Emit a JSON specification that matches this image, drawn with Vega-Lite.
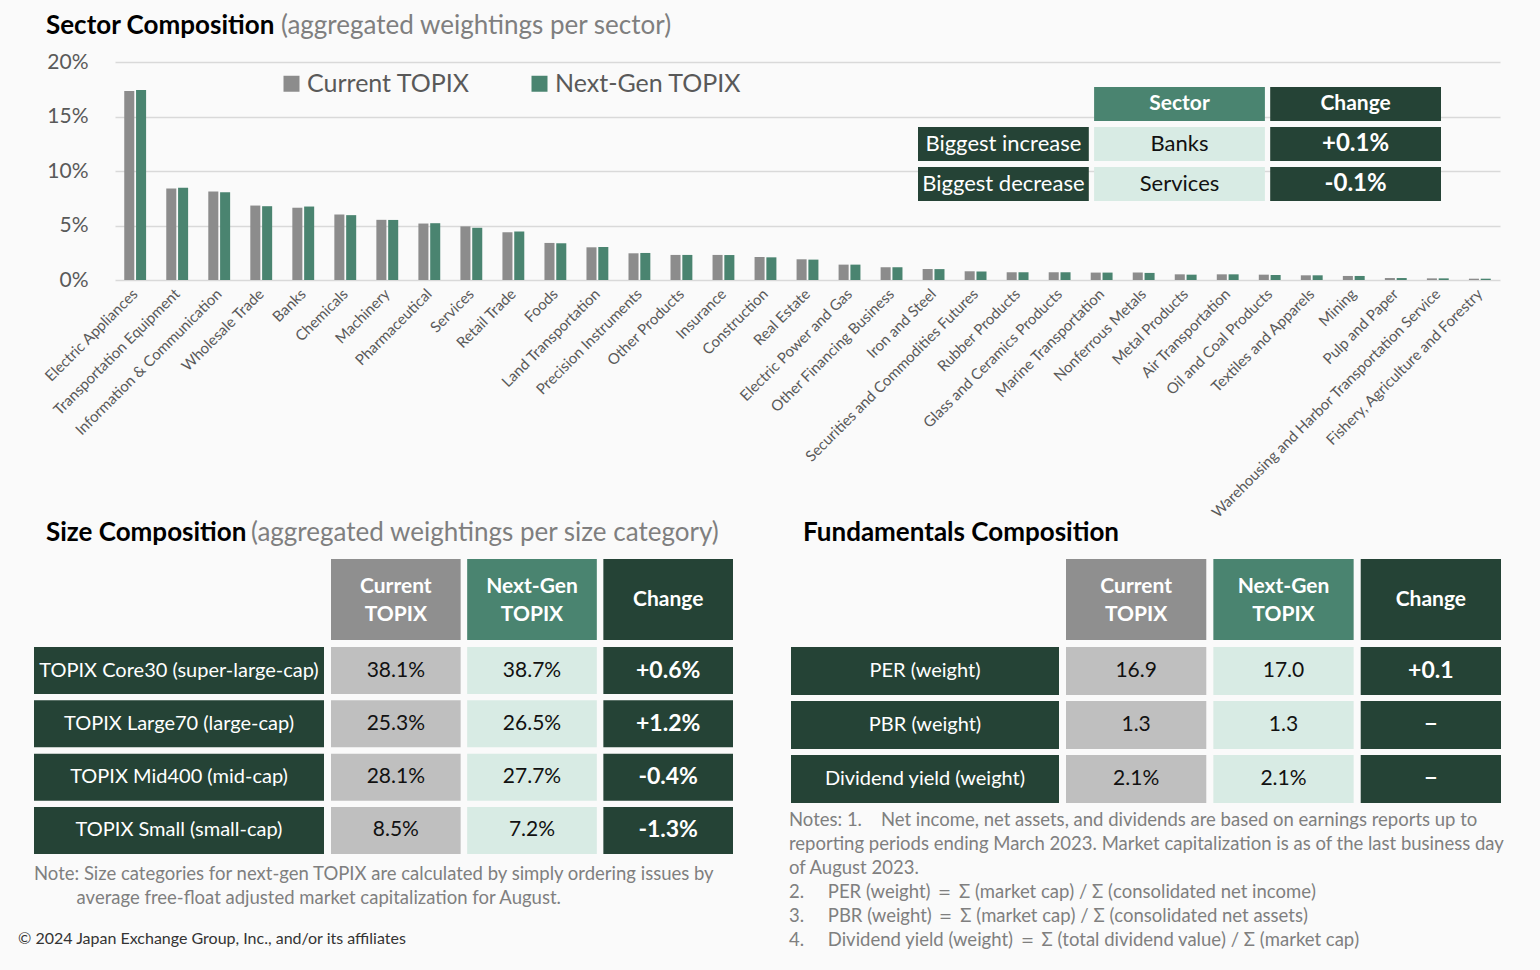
{
  "$schema": "https://vega.github.io/schema/vega-lite/v6.json",
  "background": "#fafafa",
  "padding": {"left": 18, "top": 13, "right": 40, "bottom": 30},
  "config": {"view": {"stroke": null}, "font": "Lato", "title": {"font": "Lato", "subtitleFont": "Lato"}},
  "datasets": {
    "sectors": [
      {"sector": "Electric Appliances", "series": "Current TOPIX", "weight": 0.1734},
      {"sector": "Electric Appliances", "series": "Next-Gen TOPIX", "weight": 0.1743},
      {"sector": "Transportation Equipment", "series": "Current TOPIX", "weight": 0.0840},
      {"sector": "Transportation Equipment", "series": "Next-Gen TOPIX", "weight": 0.0846},
      {"sector": "Information & Communication", "series": "Current TOPIX", "weight": 0.0812},
      {"sector": "Information & Communication", "series": "Next-Gen TOPIX", "weight": 0.0806},
      {"sector": "Wholesale Trade", "series": "Current TOPIX", "weight": 0.0683},
      {"sector": "Wholesale Trade", "series": "Next-Gen TOPIX", "weight": 0.0677},
      {"sector": "Banks", "series": "Current TOPIX", "weight": 0.0663},
      {"sector": "Banks", "series": "Next-Gen TOPIX", "weight": 0.0674},
      {"sector": "Chemicals", "series": "Current TOPIX", "weight": 0.0601},
      {"sector": "Chemicals", "series": "Next-Gen TOPIX", "weight": 0.0595},
      {"sector": "Machinery", "series": "Current TOPIX", "weight": 0.0552},
      {"sector": "Machinery", "series": "Next-Gen TOPIX", "weight": 0.0551},
      {"sector": "Pharmaceutical", "series": "Current TOPIX", "weight": 0.0518},
      {"sector": "Pharmaceutical", "series": "Next-Gen TOPIX", "weight": 0.0521},
      {"sector": "Services", "series": "Current TOPIX", "weight": 0.0492},
      {"sector": "Services", "series": "Next-Gen TOPIX", "weight": 0.0479},
      {"sector": "Retail Trade", "series": "Current TOPIX", "weight": 0.0438},
      {"sector": "Retail Trade", "series": "Next-Gen TOPIX", "weight": 0.0445},
      {"sector": "Foods", "series": "Current TOPIX", "weight": 0.0340},
      {"sector": "Foods", "series": "Next-Gen TOPIX", "weight": 0.0337},
      {"sector": "Land Transportation", "series": "Current TOPIX", "weight": 0.0300},
      {"sector": "Land Transportation", "series": "Next-Gen TOPIX", "weight": 0.0303},
      {"sector": "Precision Instruments", "series": "Current TOPIX", "weight": 0.0245},
      {"sector": "Precision Instruments", "series": "Next-Gen TOPIX", "weight": 0.0248},
      {"sector": "Other Products", "series": "Current TOPIX", "weight": 0.0230},
      {"sector": "Other Products", "series": "Next-Gen TOPIX", "weight": 0.0230},
      {"sector": "Insurance", "series": "Current TOPIX", "weight": 0.0230},
      {"sector": "Insurance", "series": "Next-Gen TOPIX", "weight": 0.0229},
      {"sector": "Construction", "series": "Current TOPIX", "weight": 0.0211},
      {"sector": "Construction", "series": "Next-Gen TOPIX", "weight": 0.0208},
      {"sector": "Real Estate", "series": "Current TOPIX", "weight": 0.0190},
      {"sector": "Real Estate", "series": "Next-Gen TOPIX", "weight": 0.0187},
      {"sector": "Electric Power and Gas", "series": "Current TOPIX", "weight": 0.0141},
      {"sector": "Electric Power and Gas", "series": "Next-Gen TOPIX", "weight": 0.0141},
      {"sector": "Other Financing Business", "series": "Current TOPIX", "weight": 0.0117},
      {"sector": "Other Financing Business", "series": "Next-Gen TOPIX", "weight": 0.0117},
      {"sector": "Iron and Steel", "series": "Current TOPIX", "weight": 0.0101},
      {"sector": "Iron and Steel", "series": "Next-Gen TOPIX", "weight": 0.0100},
      {"sector": "Securities and Commodities Futures", "series": "Current TOPIX", "weight": 0.0080},
      {"sector": "Securities and Commodities Futures", "series": "Next-Gen TOPIX", "weight": 0.0078},
      {"sector": "Rubber Products", "series": "Current TOPIX", "weight": 0.0071},
      {"sector": "Rubber Products", "series": "Next-Gen TOPIX", "weight": 0.0071},
      {"sector": "Glass and Ceramics Products", "series": "Current TOPIX", "weight": 0.0071},
      {"sector": "Glass and Ceramics Products", "series": "Next-Gen TOPIX", "weight": 0.0071},
      {"sector": "Marine Transportation", "series": "Current TOPIX", "weight": 0.0068},
      {"sector": "Marine Transportation", "series": "Next-Gen TOPIX", "weight": 0.0068},
      {"sector": "Nonferrous Metals", "series": "Current TOPIX", "weight": 0.0068},
      {"sector": "Nonferrous Metals", "series": "Next-Gen TOPIX", "weight": 0.0065},
      {"sector": "Metal Products", "series": "Current TOPIX", "weight": 0.0052},
      {"sector": "Metal Products", "series": "Next-Gen TOPIX", "weight": 0.0049},
      {"sector": "Air Transportation", "series": "Current TOPIX", "weight": 0.0052},
      {"sector": "Air Transportation", "series": "Next-Gen TOPIX", "weight": 0.0052},
      {"sector": "Oil and Coal Products", "series": "Current TOPIX", "weight": 0.0049},
      {"sector": "Oil and Coal Products", "series": "Next-Gen TOPIX", "weight": 0.0046},
      {"sector": "Textiles and Apparels", "series": "Current TOPIX", "weight": 0.0043},
      {"sector": "Textiles and Apparels", "series": "Next-Gen TOPIX", "weight": 0.0043},
      {"sector": "Mining", "series": "Current TOPIX", "weight": 0.0037},
      {"sector": "Mining", "series": "Next-Gen TOPIX", "weight": 0.0037},
      {"sector": "Pulp and Paper", "series": "Current TOPIX", "weight": 0.0018},
      {"sector": "Pulp and Paper", "series": "Next-Gen TOPIX", "weight": 0.0018},
      {"sector": "Warehousing and Harbor Transportation Service", "series": "Current TOPIX", "weight": 0.0015},
      {"sector": "Warehousing and Harbor Transportation Service", "series": "Next-Gen TOPIX", "weight": 0.0015},
      {"sector": "Fishery, Agriculture and Forestry", "series": "Current TOPIX", "weight": 0.0012},
      {"sector": "Fishery, Agriculture and Forestry", "series": "Next-Gen TOPIX", "weight": 0.0012}
    ],
    "sectorTable": [
      {"row": "header", "col": "Sector", "text": "Sector"},
      {"row": "header", "col": "Change", "text": "Change"},
      {"row": "inc", "col": "label", "text": "Biggest increase"},
      {"row": "inc", "col": "Sector", "text": "Banks"},
      {"row": "inc", "col": "Change", "text": "+0.1%"},
      {"row": "dec", "col": "label", "text": "Biggest decrease"},
      {"row": "dec", "col": "Sector", "text": "Services"},
      {"row": "dec", "col": "Change", "text": "-0.1%"}
    ],
    "headers": [
      {"col": "Current", "text": "Current TOPIX"},
      {"col": "Next-Gen", "text": "Next-Gen TOPIX"},
      {"col": "Change", "text": "Change"}
    ],
    "sizeCells": [
      {"row": "TOPIX Core30 (super-large-cap)", "col": "label", "text": "TOPIX Core30 (super-large-cap)"},
      {"row": "TOPIX Core30 (super-large-cap)", "col": "Current", "text": "38.1%"},
      {"row": "TOPIX Core30 (super-large-cap)", "col": "Next-Gen", "text": "38.7%"},
      {"row": "TOPIX Core30 (super-large-cap)", "col": "Change", "text": "+0.6%"},
      {"row": "TOPIX Large70 (large-cap)", "col": "label", "text": "TOPIX Large70 (large-cap)"},
      {"row": "TOPIX Large70 (large-cap)", "col": "Current", "text": "25.3%"},
      {"row": "TOPIX Large70 (large-cap)", "col": "Next-Gen", "text": "26.5%"},
      {"row": "TOPIX Large70 (large-cap)", "col": "Change", "text": "+1.2%"},
      {"row": "TOPIX Mid400 (mid-cap)", "col": "label", "text": "TOPIX Mid400 (mid-cap)"},
      {"row": "TOPIX Mid400 (mid-cap)", "col": "Current", "text": "28.1%"},
      {"row": "TOPIX Mid400 (mid-cap)", "col": "Next-Gen", "text": "27.7%"},
      {"row": "TOPIX Mid400 (mid-cap)", "col": "Change", "text": "-0.4%"},
      {"row": "TOPIX Small (small-cap)", "col": "label", "text": "TOPIX Small (small-cap)"},
      {"row": "TOPIX Small (small-cap)", "col": "Current", "text": "8.5%"},
      {"row": "TOPIX Small (small-cap)", "col": "Next-Gen", "text": "7.2%"},
      {"row": "TOPIX Small (small-cap)", "col": "Change", "text": "-1.3%"}
    ],
    "fundCells": [
      {"row": "PER (weight)", "col": "label", "text": "PER (weight)"},
      {"row": "PER (weight)", "col": "Current", "text": "16.9"},
      {"row": "PER (weight)", "col": "Next-Gen", "text": "17.0"},
      {"row": "PER (weight)", "col": "Change", "text": "+0.1"},
      {"row": "PBR (weight)", "col": "label", "text": "PBR (weight)"},
      {"row": "PBR (weight)", "col": "Current", "text": "1.3"},
      {"row": "PBR (weight)", "col": "Next-Gen", "text": "1.3"},
      {"row": "PBR (weight)", "col": "Change", "text": "−"},
      {"row": "Dividend yield (weight)", "col": "label", "text": "Dividend yield (weight)"},
      {"row": "Dividend yield (weight)", "col": "Current", "text": "2.1%"},
      {"row": "Dividend yield (weight)", "col": "Next-Gen", "text": "2.1%"},
      {"row": "Dividend yield (weight)", "col": "Change", "text": "−"}
    ]
  },
  "bounds": "flush",
  "spacing": 497,
  "vconcat": [
    {
      "bounds": "flush",
      "spacing": 80,
      "hconcat": [
        {
          "width": 1, "height": 218, "data": {"values": [{}]}, "mark": {"type": "rect", "opacity": 0}, "encoding": {},
          "title": {"text": "Sector Composition", "anchor": "start", "frame": "group", "dx": 12, "offset": 23, "fontSize": 26, "fontWeight": "bold", "color": "#000000", "limit": 3000}
        },
        {
          "width": 1385,
          "height": 218,
          "title": {"text": "(aggregated weightings per sector)", "anchor": "start", "frame": "group", "dx": 166, "offset": 12, "fontSize": 26, "fontWeight": "normal", "color": "#7f7f7f", "limit": 3000},
          "layer": [
            {
              "data": {"name": "sectors"},
              "mark": {"type": "bar"},
              "encoding": {
                "x": {"field": "sector", "type": "nominal", "sort": null,
                  "scale": {"paddingInner": 0.48, "paddingOuter": 0.22},
                  "axis": {"title": null, "labelAngle": -45, "labelAlign": "right", "labelBaseline": "middle", "labelFontSize": 15, "labelColor": "#595959", "labelFont": "Lato", "ticks": false, "domain": false, "labelPadding": 11, "labelLimit": 600, "labelOverlap": false}},
                "xOffset": {"field": "series", "type": "nominal", "scale": {"paddingInner": 0.15}},
                "y": {"field": "weight", "type": "quantitative", "scale": {"domain": [0, 0.2], "nice": false},
                  "axis": {"title": null, "format": ".0%", "values": [0, 0.05, 0.1, 0.15, 0.2], "domain": false, "ticks": false, "labelFontSize": 21, "labelColor": "#595959", "labelFont": "Lato", "labelPadding": 27, "gridColor": "#d9d9d9", "gridWidth": 1.5}},
                "color": {"field": "series", "type": "nominal",
                  "scale": {"domain": ["Current TOPIX", "Next-Gen TOPIX"], "range": ["#8c8c8c", "#4a8470"]},
                  "legend": {"orient": "none", "legendX": 245, "legendY": 9, "direction": "horizontal", "title": null, "symbolType": "square", "symbolSize": 256, "symbolStrokeWidth": 0, "labelFontSize": 25, "labelColor": "#595959", "labelFont": "Lato", "labelOffset": 3, "columnPadding": 57, "labelLimit": 400}}
              }
            },
            {
              "data": {"name": "sectorTable"},
              "encoding": {
                "x": {"field": "col", "type": "nominal", "scale": {"domain": ["label", "Sector", "Change"], "range": [803, 1326], "paddingInner": 0.03, "paddingOuter": 0}, "axis": null},
                "y": {"field": "row", "type": "nominal", "scale": {"domain": ["header", "inc", "dec"], "range": [25, 139], "paddingInner": 0.15, "paddingOuter": 0}, "axis": null}
              },
              "layer": [
                {"mark": {"type": "rect"},
                 "encoding": {"fill": {"condition": [{"test": "datum.row === 'header' && datum.col === 'Sector'", "value": "#4a8470"}, {"test": "datum.col === 'Sector'", "value": "#d8ebe4"}], "value": "#254336"}}},
                {"transform": [{"filter": "datum.row !== 'header' && datum.col !== 'Change'"}],
                 "mark": {"type": "text", "font": "Lato", "fontSize": 22, "baseline": "middle"},
                 "encoding": {"text": {"field": "text"}, "fill": {"condition": {"test": "datum.col === 'Sector'", "value": "#111111"}, "value": "#ffffff"}}},
                {"transform": [{"filter": "datum.row === 'header' || datum.col === 'Change'"}],
                 "mark": {"type": "text", "font": "Lato", "fontWeight": "bold", "baseline": "middle", "fill": "#ffffff"},
                 "encoding": {"text": {"field": "text"}, "size": {"condition": {"test": "datum.row === 'header'", "value": 21}, "value": 24}}}
              ]
            }
          ],
          "resolve": {"scale": {"x": "independent", "y": "independent"}}
        }
      ]
    },
    {
      "bounds": "flush",
      "spacing": 757,
      "hconcat": [
        {
          "bounds": "flush",
          "spacing": 88,
          "vconcat": [
            {
              "bounds": "flush",
              "spacing": 7,
              "hconcat": [
                {
                  "width": 290, "height": 81, "data": {"values": [{}]}, "mark": {"type": "rect", "opacity": 0}, "encoding": {},
                  "title": {"text": "Size Composition", "anchor": "start", "frame": "group", "dx": 12, "offset": 13, "fontSize": 26, "fontWeight": "bold", "color": "#000000", "limit": 3000}
                },
                {
                  "width": 402, "height": 81,
                  "title": {"text": "(aggregated weightings per size category)", "anchor": "start", "frame": "group", "dx": -80, "offset": 13, "fontSize": 26, "fontWeight": "normal", "color": "#7f7f7f", "limit": 3000},
                  "data": {"name": "headers"},
                  "encoding": {"x": {"field": "col", "type": "nominal", "scale": {"domain": ["Current", "Next-Gen", "Change"], "paddingInner": 0.048, "paddingOuter": 0}, "axis": null}},
                  "layer": [
                    {"mark": {"type": "rect"}, "encoding": {"fill": {"condition": [{"test": "datum.col === 'Current'", "value": "#8f8f8f"}, {"test": "datum.col === 'Next-Gen'", "value": "#4a8470"}], "value": "#254336"}}},
                    {"transform": [{"filter": "datum.col !== 'Change'"}], "mark": {"type": "text", "font": "Lato", "fontWeight": "bold", "fontSize": 21, "fill": "#ffffff", "lineBreak": " ", "lineHeight": 28, "baseline": "middle", "dy": -13}, "encoding": {"text": {"field": "text"}}},
                    {"transform": [{"filter": "datum.col === 'Change'"}], "mark": {"type": "text", "font": "Lato", "fontWeight": "bold", "fontSize": 21, "fill": "#ffffff", "baseline": "middle"}, "encoding": {"text": {"field": "text"}}}
                  ]
                }
              ]
            },
            {
              "bounds": "flush",
              "spacing": 7,
              "hconcat": [
                {
                  "width": 290, "height": 207,
                  "title": {
                    "text": ["Note: Size categories for next-gen TOPIX are calculated by simply ordering issues by", "\u200b\u00a0\u00a0\u00a0\u00a0\u00a0\u00a0\u00a0\u00a0\u00a0average free-float adjusted market capitalization for August."],
                    "orient": "bottom", "anchor": "start", "frame": "group", "dx": 0, "offset": 11,
                    "fontSize": 18.5, "fontWeight": "normal", "color": "#7f7f7f", "lineHeight": 24, "limit": 3000
                  },
                  "data": {"name": "sizeCells"},
                  "transform": [{"filter": "datum.col === 'label'"}],
                  "encoding": {"y": {"field": "row", "type": "nominal", "sort": null, "scale": {"paddingInner": 0.118, "paddingOuter": 0}, "axis": null}},
                  "layer": [
                    {"mark": {"type": "rect", "fill": "#254336"}},
                    {"mark": {"type": "text", "font": "Lato", "fontSize": 20, "fill": "#ffffff", "baseline": "middle"}, "encoding": {"text": {"field": "text"}}}
                  ]
                },
                {
                  "width": 402, "height": 207,
                  "title": {
                    "text": "© 2024 Japan Exchange Group, Inc., and/or its affiliates",
                    "orient": "bottom", "anchor": "start", "frame": "group", "dx": -313, "offset": 77,
                    "fontSize": 16, "fontWeight": "normal", "color": "#333333", "limit": 3000
                  },
                  "data": {"name": "sizeCells"},
                  "transform": [{"filter": "datum.col !== 'label'"}],
                  "encoding": {
                    "x": {"field": "col", "type": "nominal", "scale": {"domain": ["Current", "Next-Gen", "Change"], "paddingInner": 0.048, "paddingOuter": 0}, "axis": null},
                    "y": {"field": "row", "type": "nominal", "sort": null, "scale": {"paddingInner": 0.118, "paddingOuter": 0}, "axis": null}
                  },
                  "layer": [
                    {"mark": {"type": "rect"}, "encoding": {"fill": {"condition": [{"test": "datum.col === 'Current'", "value": "#bfbfbf"}, {"test": "datum.col === 'Next-Gen'", "value": "#d8ebe4"}], "value": "#254336"}}},
                    {"transform": [{"filter": "datum.col !== 'Change'"}], "mark": {"type": "text", "font": "Lato", "fontSize": 21, "fill": "#111111", "baseline": "middle"}, "encoding": {"text": {"field": "text"}}},
                    {"transform": [{"filter": "datum.col === 'Change'"}], "mark": {"type": "text", "font": "Lato", "fontSize": 23, "fontWeight": "bold", "fill": "#ffffff", "baseline": "middle"}, "encoding": {"text": {"field": "text"}}}
                  ]
                }
              ]
            }
          ]
        },
        {
          "bounds": "flush",
          "spacing": 88,
          "vconcat": [
            {
              "bounds": "flush",
              "spacing": 7,
              "hconcat": [
                {
                  "width": 268, "height": 81, "data": {"values": [{}]}, "mark": {"type": "rect", "opacity": 0}, "encoding": {},
                  "title": {"text": "Fundamentals Composition", "anchor": "start", "frame": "group", "dx": 12, "offset": 13, "fontSize": 26, "fontWeight": "bold", "color": "#000000", "limit": 3000}
                },
                {
                  "width": 435, "height": 81,
                  "data": {"name": "headers"},
                  "encoding": {"x": {"field": "col", "type": "nominal", "scale": {"domain": ["Current", "Next-Gen", "Change"], "paddingInner": 0.048, "paddingOuter": 0}, "axis": null}},
                  "layer": [
                    {"mark": {"type": "rect"}, "encoding": {"fill": {"condition": [{"test": "datum.col === 'Current'", "value": "#8f8f8f"}, {"test": "datum.col === 'Next-Gen'", "value": "#4a8470"}], "value": "#254336"}}},
                    {"transform": [{"filter": "datum.col !== 'Change'"}], "mark": {"type": "text", "font": "Lato", "fontWeight": "bold", "fontSize": 21, "fill": "#ffffff", "lineBreak": " ", "lineHeight": 28, "baseline": "middle", "dy": -13}, "encoding": {"text": {"field": "text"}}},
                    {"transform": [{"filter": "datum.col === 'Change'"}], "mark": {"type": "text", "font": "Lato", "fontWeight": "bold", "fontSize": 21, "fill": "#ffffff", "baseline": "middle"}, "encoding": {"text": {"field": "text"}}}
                  ]
                }
              ]
            },
            {
              "bounds": "flush",
              "spacing": 7,
              "hconcat": [
                {
                  "width": 268, "height": 156,
                  "title": {
                    "text": [
                      "Notes: 1.\u00a0\u00a0\u00a0\u00a0Net income, net assets, and dividends are based on earnings reports up to",
                      "reporting periods ending March 2023. Market capitalization is as of the last business day",
                      "of August 2023.",
                      "2.\u00a0\u00a0\u00a0\u00a0\u00a0PER (weight) ＝ Σ (market cap) / Σ (consolidated net income)",
                      "3.\u00a0\u00a0\u00a0\u00a0\u00a0PBR (weight) ＝ Σ (market cap) / Σ (consolidated net assets)",
                      "4.\u00a0\u00a0\u00a0\u00a0\u00a0Dividend yield (weight) ＝ Σ (total dividend value) / Σ (market cap)"
                    ],
                    "orient": "bottom", "anchor": "start", "frame": "group", "dx": -2, "offset": 8,
                    "fontSize": 18.5, "fontWeight": "normal", "color": "#7f7f7f", "lineHeight": 24,
                    "limit": 3000
                  },
                  "data": {"name": "fundCells"},
                  "transform": [{"filter": "datum.col === 'label'"}],
                  "encoding": {"y": {"field": "row", "type": "nominal", "sort": null, "scale": {"paddingInner": 0.111, "paddingOuter": 0}, "axis": null}},
                  "layer": [
                    {"mark": {"type": "rect", "fill": "#254336"}},
                    {"mark": {"type": "text", "font": "Lato", "fontSize": 20, "fill": "#ffffff", "baseline": "middle"}, "encoding": {"text": {"field": "text"}}}
                  ]
                },
                {
                  "width": 435, "height": 156,
                  "data": {"name": "fundCells"},
                  "transform": [{"filter": "datum.col !== 'label'"}],
                  "encoding": {
                    "x": {"field": "col", "type": "nominal", "scale": {"domain": ["Current", "Next-Gen", "Change"], "paddingInner": 0.048, "paddingOuter": 0}, "axis": null},
                    "y": {"field": "row", "type": "nominal", "sort": null, "scale": {"paddingInner": 0.111, "paddingOuter": 0}, "axis": null}
                  },
                  "layer": [
                    {"mark": {"type": "rect"}, "encoding": {"fill": {"condition": [{"test": "datum.col === 'Current'", "value": "#bfbfbf"}, {"test": "datum.col === 'Next-Gen'", "value": "#d8ebe4"}], "value": "#254336"}}},
                    {"transform": [{"filter": "datum.col !== 'Change'"}], "mark": {"type": "text", "font": "Lato", "fontSize": 21, "fill": "#111111", "baseline": "middle"}, "encoding": {"text": {"field": "text"}}},
                    {"transform": [{"filter": "datum.col === 'Change'"}], "mark": {"type": "text", "font": "Lato", "fontSize": 23, "fontWeight": "bold", "fill": "#ffffff", "baseline": "middle"}, "encoding": {"text": {"field": "text"}}}
                  ]
                }
              ]
            }
          ]
        }
      ]
    }
  ]
}
